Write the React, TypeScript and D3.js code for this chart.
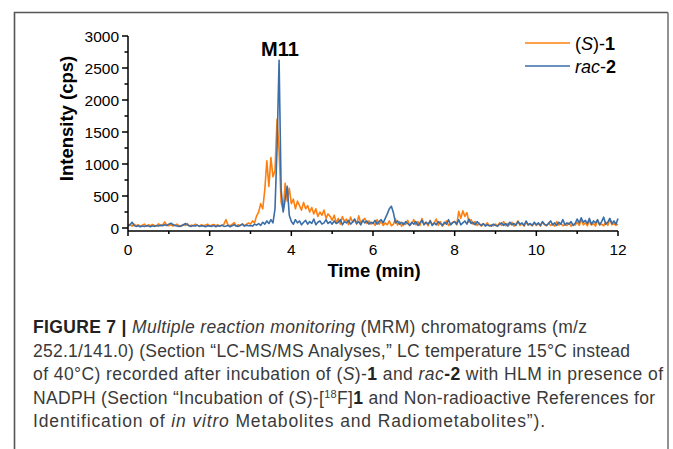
import React from "react";
import * as d3 from "d3";

// sampling grid of the chromatogram (min)
const T_START = 0;
const T_STEP = 0.05;

// (S)-1, intensity in cps, one value per 0.05 min from 0 to 12 min
const seriesS1 = [
  40, 55, 30, 60, 35, 50, 25, 45, 60, 30, 50, 35, 55, 40, 30, 65, 35, 50, 95, 40,
  35, 50, 30, 45, 60, 35, 25, 55, 40, 70, 30, 45, 35, 60, 40, 30, 50, 35, 45, 60,
  30, 45, 55, 35, 50, 25, 40, 60, 130, 45, 35, 55, 85, 30, 50, 40, 65, 35, 55, 80,
  60, 110, 80, 190, 250, 380, 300, 600, 1050, 650, 1100, 800, 900, 1700, 1200, 400, 280, 700, 420, 620,
  380, 450, 300, 420, 350, 280, 400, 300, 350, 250, 320, 220, 300, 180, 250, 200, 280, 150, 220, 180,
  120, 200, 80, 150, 60, 180, 100, 140, 50, 170, 90, 130, 60, 190, 80, 120, 150, 70, 110, 60,
  90, 40, 130, 60, 100, 40, 80, 50, 110, 35, 60, 140, 45, 100, 30, 80, 55, 120, 40, 70,
  130, 50, 100, 40, 150, 60, 90, 35, 120, 50, 80, 140, 40, 100, 30, 70, 110, 40, 60, 90,
  100, 50, 260, 150, 270, 180, 240, 90, 130, 60, 100, 40, 80, 30, 60, 45, 80, 30, 50, 35,
  60, 30, 80, 40, 100, 35, 70, 50, 90, 30, 60, 110, 40, 70, 30, 90, 45, 60, 35, 80,
  40, 70, 30, 90, 50, 35, 80, 40, 60, 30, 100, 45, 70, 35, 55, 40, 80, 30, 60, 45,
  90, 40, 130, 50, 80, 35, 110, 45, 70, 30, 120, 50, 60, 35, 90, 40, 140, 50, 70, 40,
  60,
];

// rac-2
const seriesRac2 = [
  30, 50, 90, 40, 25, 35, 20, 30, 25, 35, 30, 20, 35, 25, 40, 30, 45, 35, 50, 40,
  60, 75, 55, 40, 30, 25, 35, 45, 70, 50, 35, 25, 40, 30, 45, 25, 35, 30, 20, 35,
  30, 25, 40, 20, 35, 30, 45, 25, 30, 40, 20, 35, 50, 30, 25, 40, 60, 30, 45, 35,
  40, 30, 60, 45, 70, 40, 90, 60, 110, 70, 130, 80, 300, 1250, 2620, 600, 250, 450, 650, 200,
  100, 60, 130, 80, 110, 50, 90, 120, 60, 100, 70, 140, 50, 90, 110, 60, 80, 130, 70, 100,
  60, 110, 70, 90, 130, 50, 100, 80, 120, 60, 90, 140, 70, 100, 50, 120, 80, 110, 60, 90,
  70, 120, 60, 100, 130, 80, 150, 220, 300, 340, 240, 80, 110, 60, 90, 50, 100, 70, 40, 90,
  60, 100, 40, 80, 120, 50, 90, 60, 110, 40, 80, 50, 100, 70, 40, 90, 60, 130, 50, 80,
  100, 60, 130, 50, 80, 110, 60, 140, 70, 90, 50, 100, 60, 40, 70, 30, 50, 40, 30, 60,
  40, 30, 60, 80, 40, 70, 30, 90, 50, 70, 40, 100, 60, 80, 40, 110, 50, 70, 40, 90,
  50, 80, 40, 100, 60, 40, 70, 110, 50, 80, 40, 90, 60, 130, 50, 80, 60, 100, 40, 70,
  140, 80, 160, 90, 120, 70, 150, 60, 110, 80, 130, 50, 100, 170, 60, 90, 150, 70, 110, 60,
  150,
];

const xTicks = [0, 2, 4, 6, 8, 10, 12];
const xMinor = [1, 3, 5, 7, 9, 11];
const yTicks = [0, 500, 1000, 1500, 2000, 2500, 3000];
const yMinor = [250, 750, 1250, 1750, 2250, 2750];

const ORANGE = "#ff7f0e";
const BLUE = "#3a6ea8";

export default function App() {
  const x = d3.scaleLinear().domain([0, 12]).range([128, 618]);
  const y = d3.scaleLinear().domain([0, 3000]).range([228, 36]);

  const line = d3
    .line<number>()
    .x((d, i) => x(T_START + i * T_STEP))
    .y((d) => y(d));

  const font = "'Liberation Sans', Arial, sans-serif";
  const capFill = "#3a3a3a";

  return (
    <svg
      width={673}
      height={449}
      style={{ position: "fixed", left: 0, top: 0, background: "#fff" }}
      fontFamily={font}
    >
      <rect x={0} y={0} width={673} height={449} fill="#fff" />
      {/* figure frame */}
      <path d="M14.5,460 V12.5 H668" fill="none" stroke="#555" strokeWidth={1.6} />
      <path d="M668,12.5 V460" fill="none" stroke="#777" strokeWidth={1.6} />

      {/* traces */}
      <path d={line(seriesS1) || ""} fill="none" stroke={ORANGE} strokeWidth={1.6} strokeLinejoin="round" />
      <path d={line(seriesRac2) || ""} fill="none" stroke={BLUE} strokeWidth={1.6} strokeLinejoin="round" />

      {/* axes */}
      <g stroke="#000" strokeWidth={1.5}>
        <line x1={x(0)} x2={x(12)} y1={y(0) + 3} y2={y(0) + 3} />
        <line x1={x(0)} x2={x(0)} y1={y(0) + 3} y2={y(3000)} />
        {xTicks.map((t) => (
          <line key={"xt" + t} x1={x(t)} x2={x(t)} y1={y(0) + 3} y2={y(0) + 8} />
        ))}
        {xMinor.map((t) => (
          <line key={"xm" + t} x1={x(t)} x2={x(t)} y1={y(0) + 3} y2={y(0) + 6} />
        ))}
        {yTicks.map((t) => (
          <line key={"yt" + t} x1={x(0) - 6} x2={x(0)} y1={y(t)} y2={y(t)} />
        ))}
        {yMinor.map((t) => (
          <line key={"ym" + t} x1={x(0) - 3.5} x2={x(0)} y1={y(t)} y2={y(t)} />
        ))}
      </g>
      <g fontSize={15.5} fill="#000">
        {xTicks.map((t) => (
          <text key={"xl" + t} x={x(t)} y={255} textAnchor="middle">
            {t}
          </text>
        ))}
        {yTicks.map((t) => (
          <text key={"yl" + t} x={x(0) - 9} y={y(t) + 5.5} textAnchor="end">
            {t}
          </text>
        ))}
      </g>
      <text x={374} y={277} textAnchor="middle" fontWeight="bold" fontSize={18.5}>
        Time (min)
      </text>
      <text
        transform="translate(73,118.5) rotate(-90)"
        textAnchor="middle"
        fontWeight="bold"
        fontSize={18.5}
      >
        Intensity (cps)
      </text>

      {/* peak label */}
      <text x={280} y={56} textAnchor="middle" fontWeight="bold" fontSize={20}>
        M11
      </text>

      {/* legend */}
      <line x1={525} x2={570} y1={43} y2={43} stroke={ORANGE} strokeWidth={1.6} />
      <line x1={525} x2={570} y1={66} y2={66} stroke={BLUE} strokeWidth={1.6} />
      <text x={575} y={49.5} fontSize={18}>
        (<tspan fontStyle="italic">S</tspan>)-<tspan fontWeight="bold">1</tspan>
      </text>
      <text x={575} y={72.5} fontSize={18}>
        <tspan fontStyle="italic">rac</tspan>-<tspan fontWeight="bold">2</tspan>
      </text>

      {/* caption */}
      <g fontSize={17.5} fill={capFill}>
        <text x={33} y={333} textLength={554} lengthAdjust="spacing">
          <tspan fontWeight="bold" fill="#222">FIGURE 7 |</tspan> <tspan fontStyle="italic">Multiple reaction monitoring</tspan> (MRM) chromatograms (m/z
        </text>
        <text x={33} y={356.5} textLength={597} lengthAdjust="spacing">
          252.1/141.0) (Section “LC-MS/MS Analyses,” LC temperature 15°C instead
        </text>
        <text x={33} y={380} textLength={630} lengthAdjust="spacing">
          of 40°C) recorded after incubation of (<tspan fontStyle="italic">S</tspan>)-<tspan fontWeight="bold" fill="#222">1</tspan> and <tspan fontStyle="italic">rac</tspan><tspan fontWeight="bold" fill="#222">-2</tspan> with HLM in presence of
        </text>
        <text x={33} y={403.5} textLength={622} lengthAdjust="spacing">
          NADPH (Section “Incubation of (<tspan fontStyle="italic">S</tspan>)-[<tspan fontSize={11} dy={-6}>18</tspan><tspan dy={6}>F]</tspan><tspan fontWeight="bold" fill="#222">1</tspan> and Non-radioactive References for
        </text>
        <text x={33} y={427} textLength={512} lengthAdjust="spacing">
          Identification of <tspan fontStyle="italic">in vitro</tspan> Metabolites and Radiometabolites”).
        </text>
      </g>
    </svg>
  );
}
